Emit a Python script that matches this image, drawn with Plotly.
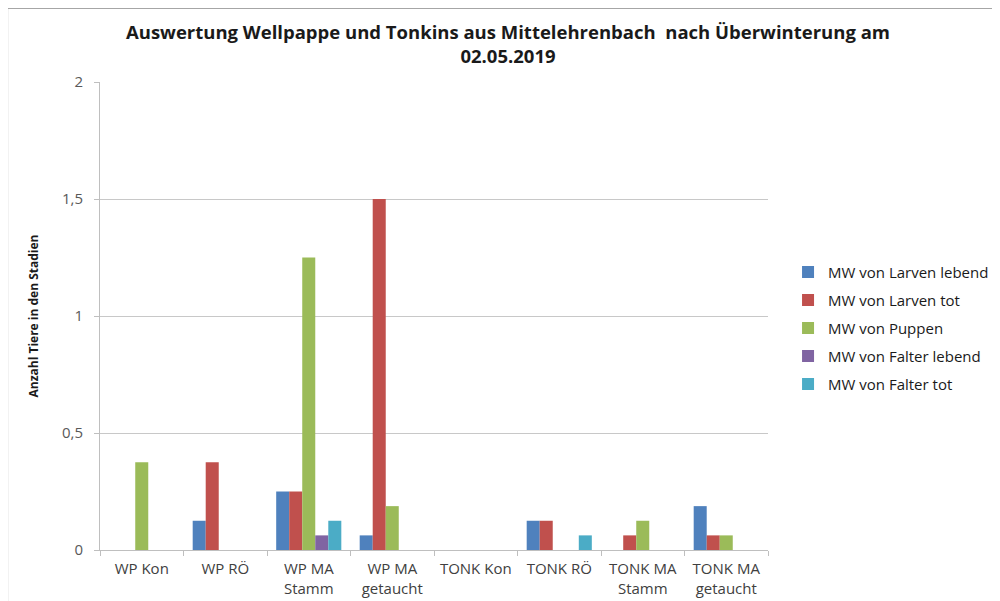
import plotly.graph_objects as go

categories = ["WP Kon", "WP RÖ", "WP MA<br>Stamm", "WP MA<br>getaucht",
              "TONK Kon", "TONK RÖ", "TONK MA<br>Stamm", "TONK MA<br>getaucht"]
larven_lebend = [0, 0.125, 0.25, 0.0625, 0, 0.125, 0, 0.1875]
larven_tot = [0, 0.375, 0.25, 1.5, 0, 0.125, 0.0625, 0.0625]
puppen = [0.375, 0, 1.25, 0.1875, 0, 0, 0.125, 0.0625]
falter_lebend = [0, 0, 0.0625, 0, 0, 0, 0, 0]
falter_tot = [0, 0, 0.125, 0, 0, 0.0625, 0, 0]

series = [
    ("MW von Larven lebend", larven_lebend, "#4F81BD"),
    ("MW von Larven tot", larven_tot, "#C0504D"),
    ("MW von Puppen", puppen, "#9BBB59"),
    ("MW von Falter lebend", falter_lebend, "#8064A2"),
    ("MW von Falter tot", falter_tot, "#4BACC6"),
]
ytick_vals = [0, 0.5, 1, 1.5, 2]
ytick_text = ["0", "0,5", "1", "1,5", "2"]

font = "Open Sans"
fig = go.Figure()
for i, (name, vals, col) in enumerate(series):
    fig.add_trace(go.Bar(x=categories, y=vals, name=name, marker_color=col,
                         marker_line_width=0, legendgroup=str(i)))

fig.update_layout(
    width=1000, height=601,
    margin=dict(l=92, r=240, t=74, b=59),
    paper_bgcolor="white", plot_bgcolor="white",
    barmode="group", bargap=0.22, bargroupgap=0,
    font=dict(family=font, size=15, color="#404040"),
    title=dict(text="Auswertung Wellpappe und Tonkins aus Mittelehrenbach  nach Überwinterung am<br>02.05.2019",
               x=0.5, xanchor="center", y=0.948, yanchor="middle",
               font=dict(family=font, size=18.5, color="#1a1a1a", weight="bold")),
    legend=dict(x=1.03, xanchor="left", y=0.474, yanchor="middle",
                font=dict(family=font, size=15, color="#1a1a1a"),
                tracegroupgap=5.5, itemwidth=30, traceorder="grouped"),
    xaxis=dict(showline=True, linecolor="#bfbfbf", linewidth=1,
               ticks="outside", tickson="boundaries", ticklen=5, tickcolor="#bfbfbf",
               ticklabelstandoff=5,
               tickfont=dict(family=font, size=15, color="#404040"), tickangle=0),
    yaxis=dict(range=[0, 2], tickvals=ytick_vals, ticktext=ytick_text,
               showline=True, linecolor="#bfbfbf", linewidth=1,
               ticks="outside", ticklen=5, tickcolor="#bfbfbf",
               ticklabelstandoff=8,
               showgrid=True, gridcolor="#c8c8c8", gridwidth=1,
               tickfont=dict(family=font, size=15, color="#595959"),
               title=dict(text="Anzahl Tiere in den Stadien", standoff=20,
                          font=dict(family=font, size=12, color="#1a1a1a", weight="bold"))),
    shapes=[
        dict(type="line", xref="paper", yref="paper", x0=-0.139, x1=1.4, y0=1.158, y1=1.158,
             line=dict(color="#a6a6a6", width=2)),
        dict(type="line", xref="paper", yref="paper", x0=-0.139, x1=-0.139, y0=1.158, y1=-0.2,
             line=dict(color="#a6a6a6", width=2)),
    ],
)
fig.write_html("out.html")
